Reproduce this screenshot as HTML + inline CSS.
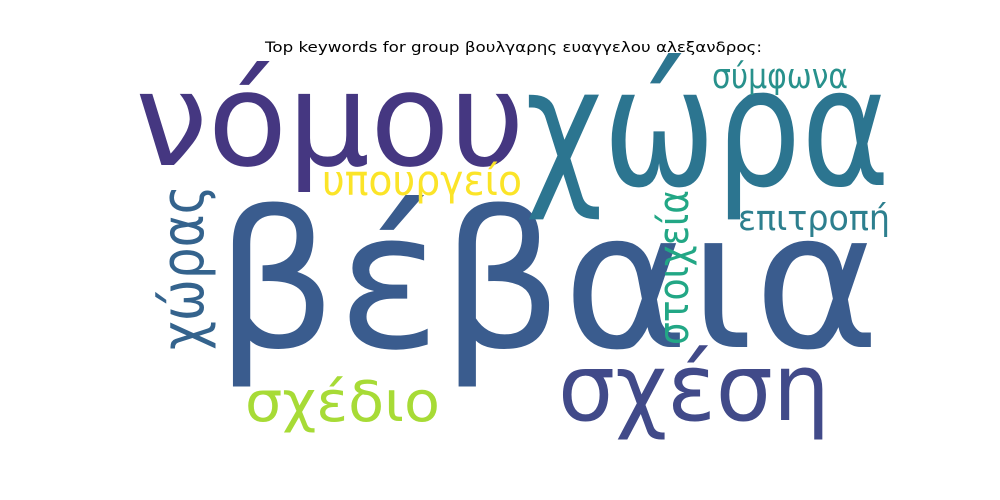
<!DOCTYPE html>
<html><head><meta charset="utf-8"><style>
html,body{margin:0;padding:0;background:#fff;}
svg{display:block;}
text{font-family:"DejaVu Sans","Liberation Sans",sans-serif;}
</style></head><body>
<svg width="1000" height="500" viewBox="0 0 1000 500">
<rect width="1000" height="500" fill="#fff"/>
<text x="265" y="52" font-size="14.5" textLength="497" lengthAdjust="spacingAndGlyphs" fill="#000">Top keywords for group βουλγαρης ευαγγελου αλεξανδρος:</text>
<g id="words"></g>
</svg>
<script>
const words = ["βέβαια","νόμου","χώρα","σχέση","σχέδιο","υπουργείο","σύμφωνα","επιτροπή","στοιχεία","χώρας"];
const sizes = [190,130,165,94,56,42,35,35,42,60];
const colors = ["#3a5c8e","#453781","#2c7590","#414a89","#a7db36","#fbe428","#28918c","#2d7f8e","#22a785","#34638d"];
// layout: x, baseline y, text length, rotation
const layout = [
 [215,347,665,0],[135,165,390,0],[525,185,365,0],[558,420,272,0],[245,421,195,0],
 [322,195,200,0],[712,88,136,0],[738,230,152,0],[688,345,155,-90],[203,350,165,-90]
];
const g = document.getElementById('words');
words.forEach((w,i)=>{
  const t = document.createElementNS('http://www.w3.org/2000/svg','text');
  const [x,y,len,rot] = layout[i];
  t.setAttribute('x',x); t.setAttribute('y',y);
  if(rot) t.setAttribute('transform','rotate('+rot+' '+x+' '+y+')');
  t.setAttribute('font-size',sizes[i]);
  t.setAttribute('fill',colors[i]);
  t.setAttribute('textLength',len);
  t.setAttribute('lengthAdjust','spacingAndGlyphs');
  t.textContent = w;
  
  
  g.appendChild(t);
});
</script>
</body></html>
